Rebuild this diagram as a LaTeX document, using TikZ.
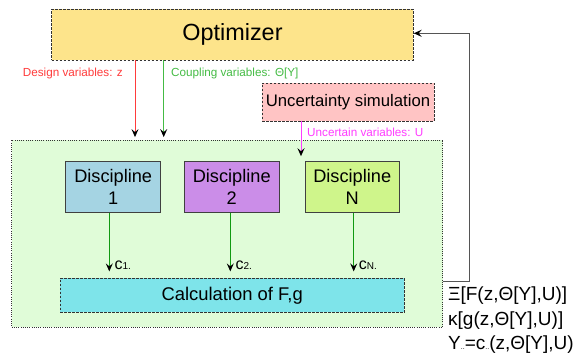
\documentclass[tikz,border=0pt]{standalone}
\usepackage{fontspec}
\setmainfont{Liberation Sans}
\usetikzlibrary{arrows.meta}

\definecolor{optfill}{HTML}{FDE48B}
\definecolor{uncfill}{HTML}{FFC4C4}
\definecolor{regionfill}{HTML}{E0FCD8}
\definecolor{discA}{HTML}{A5D4E3}
\definecolor{discB}{HTML}{CB8DE8}
\definecolor{discC}{HTML}{CFF58B}
\definecolor{calcfill}{HTML}{7EE4EA}
\definecolor{designred}{HTML}{FF3B3B}
\definecolor{couplegreen}{HTML}{44BB44}
\definecolor{uncmagenta}{HTML}{FF3BFF}
\definecolor{outgreen}{HTML}{119911}
\definecolor{feedgray}{HTML}{555555}

\newcommand{\fs}[1]{\fontsize{#1}{#1}\selectfont}

\begin{document}
\begin{tikzpicture}[x=1pt,y=-1pt,
  tip/.style={-{Stealth[black,length=8pt,width=7pt,inset=3pt]}},
  dashbox/.style={draw=black!80,line width=0.8pt,dash pattern=on 2.5pt off 1.5pt,inner sep=0pt},
  discbox/.style={draw=black!75,line width=1pt,inner sep=0pt,minimum width=95pt,minimum height=51pt,
    align=center,font=\fontsize{18.2}{22.3}\selectfont},
  varlabel/.style={inner sep=0pt,font=\fs{11.7}},
  clabel/.style={inner sep=0pt,anchor=west},
  resultline/.style={inner sep=0pt,anchor=west,font=\fs{19}}]
\useasboundingbox (0,0) rectangle (578,358);

% enclosing region of the discipline analysis
\node[draw=black!80,line width=0.8pt,dash pattern=on 1pt off 1.2pt,fill=regionfill,
  minimum width=431pt,minimum height=187pt,inner sep=0pt] (region) at (227.2,233.5) {};

% optimizer and uncertainty simulation
\node[dashbox,fill=optfill,minimum width=361.6pt,minimum height=50.7pt,font=\fs{23.4}] (opt) at (232.5,34.7) {Optimizer};
\node[dashbox,fill=uncfill,minimum width=172pt,minimum height=38pt,font=\fs{16.7}] (unc) at (348,102) {Uncertainty simulation};

% disciplines
\node[discbox,fill=discA] (d1) at (113.2,187.2) {Discipline\\1};
\node[discbox,fill=discB,minimum width=94.7pt] (d2) at (231.7,187.2) {Discipline\\2};
\node[discbox,fill=discC,minimum width=94.3pt] (dN) at (352.2,187.2) {Discipline\\N};

% aggregation of the outputs
\node[dashbox,fill=calcfill,minimum width=344.3pt,minimum height=34pt,font=\fs{18.4}] (calc) at (232.2,295.3) {Calculation of F,g};

% inputs from the optimizer
\coordinate (zx) at (135,0);
\coordinate (yx) at (163.7,0);
\coordinate (ux) at (301,0);
\draw[designred,line width=1pt,tip,shorten >=2.5pt] (opt.south -| zx) -- (region.north -| zx);
\draw[couplegreen,line width=1pt,tip,shorten >=2.5pt] (opt.south -| yx) -- (region.north -| yx);
\node[varlabel,anchor=east,text=designred] (lz) at (123,73) {Design variables: z};
\node[varlabel,anchor=west,text=couplegreen] (ly) at (171,73) {Coupling variables: Θ[Y]};

% uncertain inputs
\draw[uncmagenta,line width=1pt,tip,shorten >=5pt] (unc.south -| ux) -- (dN.north -| ux);
\node[varlabel,anchor=west,text=uncmagenta] (lu) at (307,132) {Uncertain variables: U};

% discipline outputs
\foreach \d/\x/\s in {d1/109.3/1.,d2/230.3/2.,dN/353.7/N.}{
  \coordinate (\d x) at (\x,0);
  \draw[outgreen,line width=0.9pt,tip,shorten >=6.5pt] (\d.south -| \d x) -- (calc.north -| \d x);
  \node[clabel] (\d c) at (\x+5,265.7) {\fs{16}c\fs{10}\s};
}

% feedback to the optimizer
\coordinate (fbl) at (469,281.7);
\coordinate (fbu) at (469,33.3);
\draw[feedgray,line width=1pt,tip] (region.east |- fbl) -- (fbl) -- (fbu) -- (opt.east |- fbu);

% returned quantities
\node[resultline] (r1) at (448,296) {Ξ[F(z,Θ[Y],U)]};
\node[resultline] (r2) at (448,321) {κ[g(z,Θ[Y],U)]};
\node[resultline] (r3) at (448,345) {Y{\fs{7}..}=c{\fs{7}..}(z,Θ[Y],U)};
\end{tikzpicture}
\end{document}
